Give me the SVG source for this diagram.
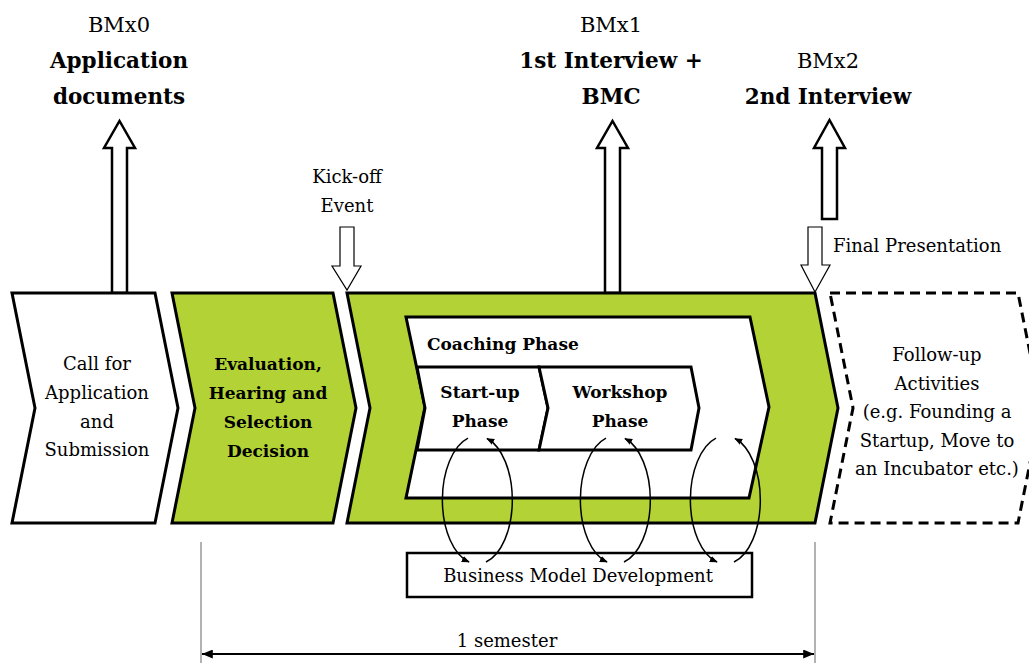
<svg xmlns="http://www.w3.org/2000/svg" width="1029" height="663" viewBox="0 0 1029 663">
  <defs>
    <style>
      text { font-family: "DejaVu Serif", "Liberation Serif", serif; fill: #000; }
      .t18 { font-size: 18px; }
      .b17 { font-size: 17px; font-weight: bold; }
      .b21 { font-size: 21.5px; font-weight: bold; }
      .r21 { font-size: 21px; }
      .mid { text-anchor: middle; }
      .chev { stroke: #000; stroke-width: 3; stroke-linejoin: miter; }
      .green { fill: #b2d235; }
      .white { fill: #fff; }
      .dashed { fill: #fff; stroke: #000; stroke-width: 3; stroke-dasharray: 10 6; }
      .uparrow { fill: #fff; stroke: #000; stroke-width: 2.5; stroke-linejoin: miter; }
      .downarrow { fill: #fff; stroke: #000; stroke-width: 1.2; stroke-linejoin: miter; }
      .loop { fill: none; stroke: #000; stroke-width: 1.5; marker-end: url(#tip); }
      .dim { stroke: #999; stroke-width: 1.5; }
    </style>
    <marker id="tip" viewBox="0 0 10 10" refX="9" refY="5" markerWidth="8" markerHeight="8" markerUnits="userSpaceOnUse" orient="auto">
      <path d="M0,1 L10,5 L0,9 Z" fill="#000"/>
    </marker>
    <marker id="dimTip" viewBox="0 0 12 10" refX="12" refY="5" markerWidth="12" markerHeight="9" markerUnits="userSpaceOnUse" orient="auto-start-reverse">
      <path d="M0,0 L12,5 L0,10 Z" fill="#000"/>
    </marker>
  </defs>

  <!-- milestone arrows -->
  <g id="connectors">
    <polygon class="uparrow" points="112,293 112,148 104,148 119.5,121 135,148 127,148 127,293"/>
    <polygon class="uparrow" points="605,293 605,148 597,148 612.5,121 628,148 620,148 620,293"/>
    <polygon class="uparrow" points="822,219 822,148 814,148 829.5,120 845,148 837,148 837,219"/>
    <polygon class="downarrow" points="340,227 354,227 354,266 361,266 347,290 332,266 340,266"/>
    <polygon class="downarrow" points="808,227 822,227 822,265 830,265 815,292 801,265 808,265"/>
  </g>

  <!-- process chevrons -->
  <g id="call">
    <polygon class="chev white" points="12,293 155,293 178,408 155,523 12,523 35,408"/>
    <text class="t18 mid" x="97" y="370">Call for</text>
    <text class="t18 mid" x="97" y="399">Application</text>
    <text class="t18 mid" x="97" y="428">and</text>
    <text class="t18 mid" x="97" y="456">Submission</text>
  </g>

  <g id="evaluation">
    <polygon class="chev green" points="172,293 333,293 356,408 333,523 172,523 195,408"/>
    <text class="b17 mid" x="268" y="370">Evaluation,</text>
    <text class="b17 mid" x="268" y="399">Hearing and</text>
    <text class="b17 mid" x="268" y="428">Selection</text>
    <text class="b17 mid" x="268" y="457">Decision</text>
  </g>

  <g id="programme">
    <polygon class="chev green" points="347,293 815,293 838,408 815,523 347,523 370,408"/>
  </g>

  <g id="coaching">
    <polygon class="chev white" points="406,317 750,317 769,407 749,498 406,498 425,407"/>
    <text class="b17" x="427" y="350">Coaching Phase</text>
  </g>

  <g id="startup">
    <polygon class="chev white" points="417,367 539,367 548,408 539,450 417,450 425,408"/>
    <text class="b17 mid" x="480" y="398">Start-up</text>
    <text class="b17 mid" x="480" y="427">Phase</text>
  </g>

  <g id="workshop">
    <polygon class="chev white" points="539,367 691,367 699,408 691,450 539,450 548,408"/>
    <text class="b17 mid" x="620" y="398">Workshop</text>
    <text class="b17 mid" x="620" y="427">Phase</text>
  </g>

  <g id="followup">
    <polygon class="dashed" points="830,293 1018,293 1041,408 1018,523 830,523 853,408"/>
    <text class="t18 mid" x="937" y="361">Follow-up</text>
    <text class="t18 mid" x="937" y="390">Activities</text>
    <text class="t18 mid" x="937" y="418">(e.g. Founding a</text>
    <text class="t18 mid" x="937" y="447">Startup, Move to</text>
    <text class="t18 mid" x="937" y="475">an Incubator etc.)</text>
  </g>

  <g id="bmd">
    <rect x="407" y="553" width="345" height="44" fill="#fff" stroke="#000" stroke-width="2.5"/>
    <text class="t18 mid" x="578" y="582">Business Model Development</text>
  </g>

  <!-- iteration loops between phases and business model development -->
  <g id="loops">
    <path class="loop" d="M468,438.2 A35,64 0 0 0 469,562"/>
    <path class="loop" d="M486,562 A35,64 0 0 0 487,438.5"/>
    <path class="loop" d="M606,438.2 A35,64 0 0 0 607,562"/>
    <path class="loop" d="M624,562 A35,64 0 0 0 625,438.5"/>
    <path class="loop" d="M716,438.2 A35,64 0 0 0 717,562"/>
    <path class="loop" d="M734,562 A35,64 0 0 0 735,438.5"/>
  </g>

  <!-- milestone labels -->
  <g id="bmx0">
    <text class="r21 mid" x="119" y="32">BMx0</text>
    <text class="b21 mid" x="119" y="68">Application</text>
    <text class="b21 mid" x="119" y="104">documents</text>
  </g>
  <g id="bmx1">
    <text class="r21 mid" x="611" y="32">BMx1</text>
    <text class="b21 mid" x="611" y="68">1st Interview +</text>
    <text class="b21 mid" x="611" y="104">BMC</text>
  </g>
  <g id="bmx2">
    <text class="r21 mid" x="828" y="68">BMx2</text>
    <text class="b21 mid" x="828" y="104">2nd Interview</text>
  </g>
  <g id="kickoff">
    <text class="t18 mid" x="347" y="183">Kick-off</text>
    <text class="t18 mid" x="347" y="212">Event</text>
  </g>
  <g id="final">
    <text class="t18" x="833" y="252">Final Presentation</text>
  </g>

  <!-- duration dimension -->
  <g id="duration">
    <line class="dim" x1="201" y1="542" x2="201" y2="663"/>
    <line class="dim" x1="815" y1="542" x2="815" y2="663"/>
    <line x1="202" y1="654" x2="814" y2="654" stroke="#000" stroke-width="2" marker-start="url(#dimTip)" marker-end="url(#dimTip)"/>
    <text class="t18 mid" x="507" y="647">1 semester</text>
  </g>
</svg>
